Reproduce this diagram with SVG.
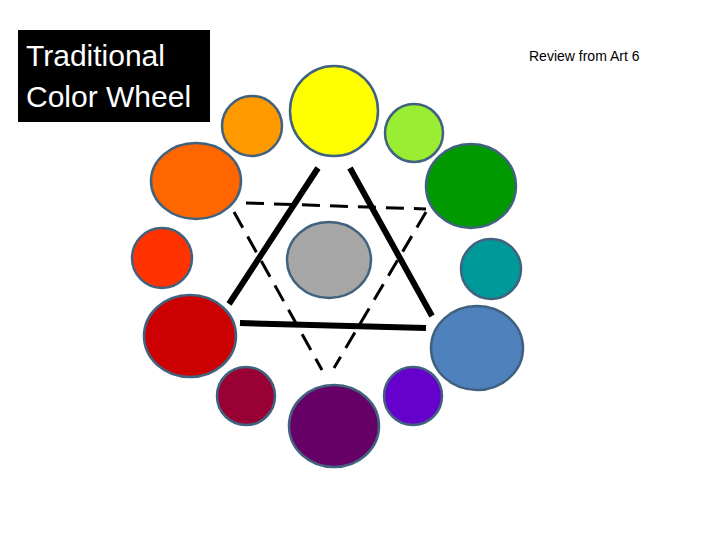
<svg xmlns="http://www.w3.org/2000/svg" width="720" height="540" viewBox="0 0 720 540">
<style>
.n{stroke:#41627f;stroke-width:2.5}
.s{stroke:#000;stroke-width:6;fill:none}
.d{stroke:#000;stroke-width:3;fill:none;stroke-dasharray:18 10}
.t{font-family:"Liberation Sans",Arial,sans-serif}
</style>
<rect width="720" height="540" fill="#fff"/>
<g id="title"><rect x="18" y="30" width="192" height="92" fill="#000"/>
<text class="t" x="26" y="66" font-size="30" fill="#fff">Traditional</text>
<text class="t" x="26" y="107" font-size="30" fill="#fff">Color Wheel</text></g>
<text id="review" class="t" x="529" y="61" font-size="14" fill="#000">Review from Art 6</text>
<g id="connectors">
<line class="s" x1="318" y1="168" x2="229" y2="304"/>
<line class="s" x1="350" y1="168" x2="432" y2="316"/>
<line class="s" x1="240" y1="323" x2="426" y2="328"/>
<line class="d" x1="246" y1="203" x2="426" y2="209"/>
<line class="d" x1="234" y1="212" x2="322" y2="370"/>
<line class="d" x1="426" y1="212" x2="334" y2="368"/>
</g>
<g id="yellow"><ellipse class="n" cx="334" cy="111" rx="44" ry="45" fill="#ffff00"/></g>
<g id="yelloworange"><ellipse class="n" cx="252" cy="126" rx="30" ry="30" fill="#ff9900"/></g>
<g id="yellowgreen"><ellipse class="n" cx="414" cy="133" rx="29" ry="29" fill="#99ee33"/></g>
<g id="orange"><ellipse class="n" cx="196" cy="181" rx="45" ry="38" fill="#ff6600"/></g>
<g id="green"><ellipse class="n" cx="471" cy="186" rx="45" ry="42" fill="#009900"/></g>
<g id="redorange"><ellipse class="n" cx="162" cy="258" rx="30" ry="30" fill="#ff3300"/></g>
<g id="bluegreen"><ellipse class="n" cx="491" cy="269" rx="30" ry="30" fill="#009999"/></g>
<g id="gray"><ellipse class="n" cx="329" cy="260" rx="42" ry="38" fill="#a6a6a6"/></g>
<g id="red"><ellipse class="n" cx="190" cy="336" rx="46" ry="41" fill="#cc0000"/></g>
<g id="blue"><ellipse class="n" cx="477" cy="348" rx="46" ry="42" fill="#4f81bd"/></g>
<g id="redviolet"><ellipse class="n" cx="246" cy="396" rx="29" ry="29" fill="#990033"/></g>
<g id="blueviolet"><ellipse class="n" cx="413" cy="396" rx="29" ry="29" fill="#6600cc"/></g>
<g id="violet"><ellipse class="n" cx="334" cy="426" rx="45" ry="41" fill="#660066"/></g>
</svg>
